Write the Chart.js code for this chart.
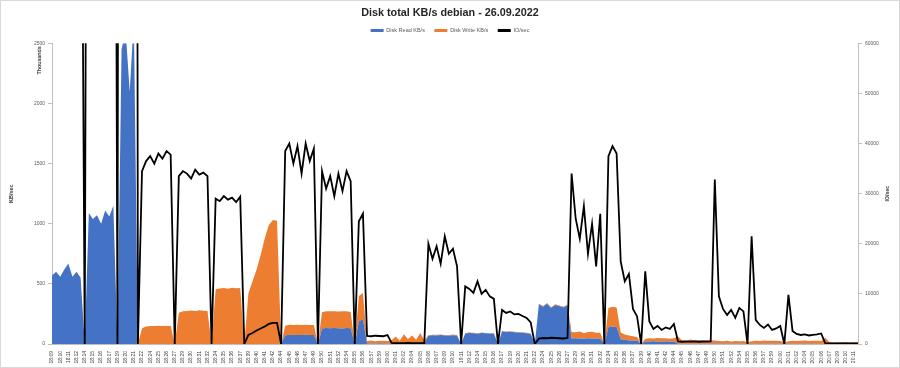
<!DOCTYPE html>
<html>
<head>
<meta charset="utf-8">
<title>Disk total KB/s debian - 26.09.2022</title>
<script src="https://cdn.jsdelivr.net/npm/chart.js@4.4.0/dist/chart.umd.min.js"></script>
<style>
    html, body { margin: 0; padding: 0; background: #fff; }
    canvas { display: block; }
</style>
</head>
<body>
<canvas id="disk-chart" width="900" height="368"></canvas>
<script>
// Etiquetas del eje X (una cada 75 s)
const tickLabels = [
    '18:09', '18:10', '18:11', '18:12', '18:14', '18:15', '18:16', '18:17', '18:19', '18:20',
    '18:21', '18:22', '18:24', '18:25', '18:26', '18:27', '18:29', '18:30', '18:31', '18:32',
    '18:34', '18:35', '18:36', '18:37', '18:39', '18:40', '18:41', '18:42', '18:44', '18:45',
    '18:46', '18:47', '18:49', '18:50', '18:51', '18:52', '18:54', '18:55', '18:56', '18:57',
    '18:59', '19:00', '19:01', '19:02', '19:04', '19:05', '19:06', '19:07', '19:09', '19:10',
    '19:11', '19:12', '19:14', '19:15', '19:16', '19:17', '19:19', '19:20', '19:21', '19:22',
    '19:24', '19:25', '19:26', '19:27', '19:29', '19:30', '19:31', '19:32', '19:34', '19:35',
    '19:36', '19:37', '19:39', '19:40', '19:41', '19:42', '19:44', '19:45', '19:46', '19:47',
    '19:49', '19:50', '19:51', '19:52', '19:54', '19:55', '19:56', '19:57', '19:59', '20:00',
    '20:01', '20:02', '20:04', '20:05', '20:06', '20:07', '20:09', '20:10', '20:11'
];

// Dos muestras por etiqueta (miles de KB/s)
const readKB = [
    570, 600, 560, 620, 670, 560, 600, 550, 0,
    1090, 1040, 1070, 1000, 1110, 1060, 1150, 0,
    2450, 2600, 2100, 2700, 0,
    0, 0, 0, 0, 0, 0, 0, 0, 0,
    0, 0, 0, 0, 0, 0, 0, 0, 0,
    0, 0, 0, 0, 0, 0, 0, 0,
    0, 0, 0, 0, 0, 0, 0, 0, 0,
    72, 75, 76, 74, 75, 77, 74, 75, 0,
    128, 132, 130, 134, 131, 129, 133, 130, 0,
    190, 205,
    5, 4, 5, 6, 4, 5,
    1, 2, 1, 1, 2, 1, 1, 2, 1,
    68, 72, 70, 74, 71, 69, 73, 70, 0,
    88, 92, 90, 86, 91, 89, 87, 88, 0,
    105, 100, 102, 98, 95, 93, 90, 85, 0,
    330, 310, 335, 300, 325, 315, 305, 320,
    45, 48, 46, 44, 47, 45, 46, 44, 0,
    140, 145, 142,
    40, 35, 30, 30, 28, 0,
    18, 20, 22, 19, 21, 20, 19, 20,
    3, 2, 3, 2, 3, 2, 3, 2, 3,
    4, 3, 3, 2, 3, 3, 2, 3, 0,
    3, 3, 2, 3, 2, 3, 2, 3, 0,
    3, 2, 3, 2, 3, 2, 3, 2, 3,
    1, 1, 1, 1, 1, 1, 1, 1, 1
];

const writeKB = [
    0, 0, 0, 0, 0, 0, 0, 0, 0,
    0, 0, 0, 0, 0, 0, 0, 0,
    0, 0, 0, 0, 0,
    130, 145, 150, 150, 152, 150, 150, 152, 0,
    260, 272, 275, 278, 275, 280, 276, 274, 0,
    455, 462, 465, 460, 468, 463, 466, 0,
    420, 520, 620, 740, 880, 990, 1030, 1025, 0,
    80, 85, 82, 86, 84, 83, 85, 82, 0,
    135, 140, 142, 138, 140, 143, 139, 136, 0,
    210, 220,
    20, 25, 18, 22, 24, 20,
    30, 60, 25, 80, 40, 70, 35, 90, 30,
    5, 4, 6, 5, 4, 6, 5, 4, 0,
    3, 4, 3, 3, 4, 3, 3, 4, 0,
    3, 3, 4, 3, 3, 4, 3, 3, 0,
    5, 6, 5, 6, 5, 6, 5, 6,
    55, 50, 58, 45, 52, 56, 48, 50, 0,
    160, 165, 162,
    55, 45, 40, 35, 30, 0,
    25, 28, 24, 30, 26, 27, 25, 28,
    60, 30, 25, 35, 28, 30, 25, 32, 28,
    25, 22, 20, 24, 18, 21, 20, 22, 15,
    20, 25, 22, 26, 24, 23, 25, 22, 15,
    20, 25, 22, 24, 26, 23, 25, 24, 22,
    50, 15, 12, 14, 13, 15, 12, 14, 13
];

// IO/sec (eje derecho); los tramos de lectura salen por arriba del gráfico
const ioSec = [
    140000, 140000, 140000, 140000, 140000, 140000, 140000, 140000, 0,
    260000, 260000, 260000, 260000, 260000, 260000, 260000, 0,
    550000, 550000, 550000, 600000, 0,
    34500, 36500, 37500, 36000, 38000, 37000, 38500, 37800, 0,
    33500, 34500, 34000, 33000, 34800, 33800, 34200, 33500, 0,
    29000, 28500, 29500, 28800, 29200, 28300, 29400, 0,
    1800, 2200, 2700, 3100, 3500, 4000, 4200, 4200, 0,
    38500, 40000, 36000, 39500, 34000, 40000, 36500, 39000, 0,
    34500, 31000, 33500, 29500, 34000, 30500, 34500, 32500, 0,
    24500, 26000,
    1600, 1550, 1650, 1600, 1550, 1800,
    200, 150, 180, 150, 200, 160, 150, 180, 200,
    20000, 17000, 19500, 16000, 21500, 18000, 19000, 15500, 0,
    11500, 11000, 10200, 12500, 10000, 10800, 9500, 9000, 0,
    6800, 6200, 6500, 5900, 6000, 5600, 5200, 4300, 0,
    1100, 1200, 1150, 1250, 1200, 1150, 1100, 1200,
    34000, 25000, 21000, 27500, 18000, 24000, 15500, 26000, 0,
    37500, 39500, 38000,
    16500, 12500, 14000, 7000, 5500, 0,
    14500, 4500, 3000, 3600, 2800, 3300, 3000, 4000,
    500, 450, 500, 480, 520, 450, 500, 480, 500,
    32800, 9500, 7000, 5800, 6800, 5200, 7200, 6500, 0,
    21500, 4800, 3800, 3200, 3900, 2800, 3100, 3600, 0,
    9800, 2600, 2000, 1800, 1900, 1700, 1800, 1900, 2100,
    150, 100, 120, 100, 110, 100, 120, 100, 110
];

const FONT = "'Liberation Sans', Arial, sans-serif";
const categories = tickLabels.flatMap(t => [t, '']);

// Textos extra: unidades, título del eje derecho y marco
const extrasPlugin = {
    id: 'extras',
    afterDraw(chart) {
        const { ctx, chartArea } = chart;
        ctx.save();
        ctx.fillStyle = '#404040';
        ctx.font = 'bold 5.3px ' + FONT;
        ctx.textBaseline = 'middle';

        ctx.save();
        ctx.translate(40, chartArea.top + 3);
        ctx.rotate(-Math.PI / 2);
        ctx.textAlign = 'right';
        ctx.fillText('Thousands', 0, 0);
        ctx.restore();

        ctx.save();
        ctx.translate(888, (chartArea.top + chartArea.bottom) / 2);
        ctx.rotate(-Math.PI / 2);
        ctx.textAlign = 'center';
        ctx.fillText('IO/sec', 0, 0);
        ctx.restore();

        ctx.strokeStyle = '#d9d9d9';
        ctx.lineWidth = 1;
        ctx.strokeRect(0.5, 0.5, chart.width - 1, chart.height - 1);
        ctx.restore();
    }
};

Chart.defaults.font.family = FONT;
Chart.defaults.color = '#595959';

const plainNumber = value => String(value);

new Chart(document.getElementById('disk-chart'), {
    type: 'line',
    data: {
        labels: categories,
        datasets: [
            {
                label: 'Disk Read KB/s',
                data: readKB,
                yAxisID: 'y',
                backgroundColor: '#4472C4',
                borderColor: 'rgba(0,0,0,0)',
                borderWidth: 0,
                fill: 'origin',
                pointRadius: 0,
                tension: 0,
                order: 1
            },
            {
                label: 'Disk Write KB/s',
                data: writeKB,
                yAxisID: 'y',
                backgroundColor: '#ED7D31',
                borderColor: 'rgba(0,0,0,0)',
                borderWidth: 0,
                fill: '-1',
                pointRadius: 0,
                tension: 0,
                order: 1
            },
            {
                label: 'IO/sec',
                data: ioSec,
                yAxisID: 'y1',
                borderColor: '#000000',
                backgroundColor: '#000000',
                borderWidth: 1.8,
                fill: false,
                pointRadius: 0,
                tension: 0,
                order: 0
            }
        ]
    },
    options: {
        responsive: false,
        devicePixelRatio: 1,
        animation: false,
        layout: { padding: 0 },
        plugins: {
            title: {
                display: true,
                text: 'Disk total KB/s debian - 26.09.2022',
                color: '#262626',
                font: { size: 10.8, weight: 'bold', lineHeight: 1 },
                padding: { top: 7.5, bottom: 0 }
            },
            legend: {
                position: 'top',
                labels: {
                    boxWidth: 13,
                    boxHeight: 3,
                    padding: 9.5,
                    color: '#595959',
                    font: { size: 5.5 },
                    sort: (a, b) => a.datasetIndex - b.datasetIndex,
                    generateLabels: chart => Chart.defaults.plugins.legend.labels
                        .generateLabels(chart).map(l => ({ ...l, lineWidth: 0 }))
                }
            },
            tooltip: { enabled: false }
        },
        scales: {
            x: {
                type: 'category',
                offset: false,
                grid: { display: false, drawTicks: false },
                border: { display: true, color: '#bfbfbf' },
                ticks: {
                    autoSkip: false,
                    minRotation: 90,
                    maxRotation: 90,
                    padding: 7,
                    color: '#404040',
                    font: { size: 5 },
                    callback: (value, index) => categories[index]
                },
                afterFit: scale => { scale.height = 24; }
            },
            y: {
                position: 'left',
                stacked: true,
                min: 0,
                max: 2500,
                ticks: { stepSize: 500, padding: 3, font: { size: 5 }, callback: plainNumber },
                grid: { drawOnChartArea: false, tickLength: 4, color: '#bfbfbf' },
                border: { color: '#bfbfbf' },
                title: {
                    display: true,
                    text: 'KB/sec',
                    color: '#404040',
                    font: { size: 5.5, weight: 'bold' },
                    padding: { top: 8.5, bottom: 0 }
                },
                afterFit: scale => { scale.width = 52; }
            },
            y1: {
                position: 'right',
                min: 0,
                max: 60000,
                ticks: { stepSize: 10000, padding: 3, font: { size: 5 }, callback: plainNumber },
                grid: { drawOnChartArea: false, tickLength: 4, color: '#bfbfbf' },
                border: { color: '#bfbfbf' },
                afterFit: scale => { scale.width = 42; }
            }
        }
    },
    plugins: [extrasPlugin]
});
</script>
</body>
</html>
